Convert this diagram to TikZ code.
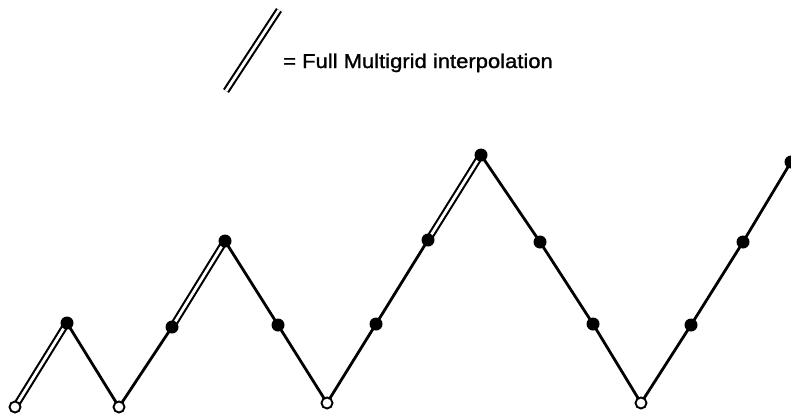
\documentclass[tikz,border=0pt]{standalone}
\usepackage{fontspec}
\setmainfont{Liberation Sans}[BoldFont=Liberation Sans, BoldFeatures={FakeBold=1.2}]
\begin{document}
\begin{tikzpicture}[x=1pt,y=-1pt,
  seg/.style={line width=2.8pt, line cap=round, line join=round},
  fmg/.style={double, double distance=2.8pt, line width=2.1pt},
  full/.style={circle, fill=black, inner sep=0pt, minimum size=13pt},
  open/.style={circle, draw=black, fill=white, line width=1.9pt, inner sep=0pt, minimum size=11pt},
  lbl/.style={font=\fontsize{20}{23}\selectfont\bfseries, inner sep=0pt, anchor=base west}]
\useasboundingbox (0,0) rectangle (791,415);
% legend
\coordinate (la) at (226,91);
\coordinate (lb) at (279,10);
\draw[fmg] (la) -- (lb);
\node[lbl] (legend) at (283,68) {\scalebox{1.1}[1]{= Full Multigrid interpolation}};
% points
\coordinate (p0) at (15,407);
\coordinate (p1) at (67,323);
\coordinate (p2) at (119,407);
\coordinate (p3) at (172,327);
\coordinate (p4) at (225,241);
\coordinate (p5) at (278,325);
\coordinate (p6) at (327,403);
\coordinate (p7) at (376,324);
\coordinate (p8) at (428,240);
\coordinate (p9) at (481,155);
\coordinate (p10) at (540,242);
\coordinate (p11) at (593,324);
\coordinate (p12) at (641,403);
\coordinate (p13) at (691,325);
\coordinate (p14) at (743,242);
\coordinate (p15) at (791,162);
% connectors
\draw[fmg] (p0) -- (p1);
\draw[seg] (p1) -- (p2) -- (p3);
\draw[fmg] (p3) -- (p4);
\draw[seg] (p4) -- (p5) -- (p6) -- (p7) -- (p8);
\draw[fmg] (p8) -- (p9);
\draw[seg] (p9) -- (p10) -- (p11) -- (p12) -- (p13) -- (p14) -- (p15);
% nodes
\foreach \p in {p1,p3,p4,p5,p7,p8,p9,p10,p11,p13,p14,p15}
  \node[full] (n\p) at (\p) {};
\foreach \p in {p0,p2,p6,p12}
  \node[open] (n\p) at (\p) {};
\end{tikzpicture}
\end{document}
